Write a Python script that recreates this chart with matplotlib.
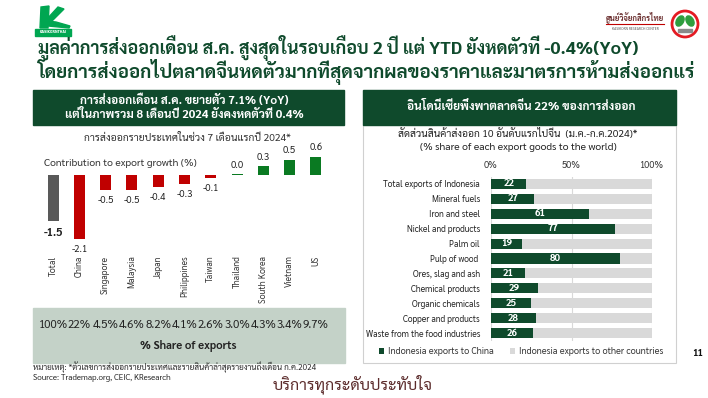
import matplotlib
matplotlib.use("Agg")
import matplotlib.pyplot as plt
from matplotlib import font_manager
from matplotlib.patches import Rectangle, Circle, Ellipse, Polygon
from matplotlib.transforms import blended_transform_factory
import numpy as np

W, H = 708, 398

# ---- data ----
countries = ["Total", "China", "Singapore", "Malaysia", "Japan", "Philippines",
             "Taiwan", "Thailand", "South Korea", "Vietnam", "US"]
contribution = [-1.5, -2.1, -0.5, -0.5, -0.4, -0.3, -0.1, 0.03, 0.3, 0.5, 0.6]
export_share = ["100%", "22%", "4.5%", "4.6%", "8.2%", "4.1%", "2.6%", "3.0%",
                "4.3%", "3.4%", "9.7%"]

products = ["Total exports of Indonesia", "Mineral fuels", "Iron and steel",
            "Nickel and products", "Palm oil", "Pulp of wood ", "Ores, slag and ash",
            "Chemical products", "Organic chemicals", "Copper and products",
            "Waste from the food industries"]
to_china = [22, 27, 61, 77, 19, 80, 21, 29, 25, 28, 26]
to_others = [78, 73, 39, 23, 81, 20, 79, 71, 75, 72, 74]

DARK_GREEN = "#0f4a2c"
RED = "#c00000"
GREEN = "#0a7a22"
GREY_BAR = "#595959"
LIGHT_GREY = "#d9d9d9"
TABLE_BG = "#c4d2c8"
LOGO_GREEN = "#00a651"

installed = {f.name for f in font_manager.fontManager.ttflist}
prefs = ["Sarabun", "Noto Sans Thai Looped", "IBM Plex Sans Thai Looped",
         "Noto Sans Thai", "Loma"]
thai = next((p for p in prefs if p in installed), None)
plt.rcParams["font.family"] = [thai, "DejaVu Sans"] if thai else ["DejaVu Sans"]


def box(x0, y0, x1, y1):
    # pixel box (top-left origin) -> figure fraction rect
    return [x0 / W, 1 - y1 / H, (x1 - x0) / W, (y1 - y0) / H]


fig = plt.figure(figsize=(W / 100, H / 100), dpi=100)
fig.patch.set_facecolor("white")
renderer = fig.canvas.get_renderer()


def fit(t, width):
    # scale font so the text spans `width` pixels like in the slide
    w = t.get_window_extent(renderer).width
    t.set_fontsize(t.get_fontsize() * width / w)
    return t


bg = fig.add_axes([0, 0, 1, 1], zorder=0)
bg.set_xlim(0, W)
bg.set_ylim(H, 0)
bg.axis("off")

# ---- logos ----
bg.add_patch(Polygon([(41, 7), (49, 6), (48, 28), (40, 28)], color=LOGO_GREEN))
bg.add_patch(Polygon([(47, 19), (58, 7), (64, 9), (51, 22)], color=LOGO_GREEN))
bg.add_patch(Polygon([(47, 21), (56, 22), (70, 26), (69, 28), (48, 26)],
                     color=LOGO_GREEN))
bg.add_patch(Rectangle((35, 29), 36, 6.5, color=LOGO_GREEN))
bg.text(53, 32.2, "KASIKORNTHAI", color="white", fontsize=2.3, fontweight="bold",
        ha="center", va="center", family="DejaVu Sans")

fit(bg.text(635, 17, "ศูนย์วิจัยกสิกรไทย", color="#6b2f2f", fontsize=7,
            fontweight="bold", ha="center", va="center"), 58)
bg.plot([606, 664], [24, 24], color=RED, lw=0.8)
bg.text(635, 29, "KASIKORN RESEARCH CENTER", color="#555555",
        fontsize=2.6, ha="center", va="center")
bg.add_patch(Circle((685, 24), 13, facecolor="white", edgecolor="#e31b23", lw=2))
bg.add_patch(Ellipse((680, 21), 7, 11, angle=30, color="#2e9e3e"))
bg.add_patch(Ellipse((690, 21), 7, 11, angle=-30, color="#2e9e3e"))
bg.add_patch(Rectangle((678, 29), 14, 3, color="#8a8a8a"))

# ---- title ----
t1 = bg.text(38, 48, "มูลค่าการส่งออกเดือน ส.ค. สูงสุดในรอบเกือบ 2 ปี แต่ YTD ยังหดตัวที่ -0.4%(YoY)",
             color=DARK_GREEN, fontsize=13, fontweight="bold", ha="left", va="center")
t2 = bg.text(38, 72, "โดยการส่งออกไปตลาดจีนหดตัวมากที่สุดจากผลของราคาและมาตรการห้ามส่งออกแร่",
             color=DARK_GREEN, fontsize=13, fontweight="bold", ha="left", va="center")
fit(t1, 600)
fit(t2, 655)

# ---- left panel ----
bg.add_patch(Rectangle((33, 90), 311, 35, color=DARK_GREEN))
fit(bg.text(184, 101, "การส่งออกเดือน ส.ค. ขยายตัว 7.1% (YoY)", color="white",
            fontsize=8.2, fontweight="bold", ha="center", va="center"), 208)
fit(bg.text(184, 115, "แต่ในภาพรวม 8 เดือนปี 2024 ยังคงหดตัวที่ 0.4%", color="white",
            fontsize=8.2, fontweight="bold", ha="center", va="center"), 239)
fit(bg.text(187, 138, "การส่งออกรายประเทศในช่วง 7 เดือนแรกปี 2024*", color="#333333",
            fontsize=7, ha="center", va="center"), 208)
fit(bg.text(44, 164, "Contribution to export growth (%)", color="#333333",
            fontsize=7, ha="left", va="center"), 153)
bg.add_patch(Rectangle((33, 308), 312, 55, color=TABLE_BG))
bg.text(188, 346, "% Share of exports", color="#222222", fontsize=8,
        fontweight="bold", ha="center", va="center")

ax = fig.add_axes(box(40, 150, 329, 250), zorder=2)
ax.patch.set_alpha(0)
x = np.arange(len(countries))
colors = [GREY_BAR] + [RED if v < 0 else GREEN for v in contribution[1:]]
ax.bar(x, contribution, width=0.42, color=colors)
ax.set_xlim(-0.5, len(countries) - 0.5)
ax.set_ylim(-2.443, 0.814)
for i, v in enumerate(contribution):
    bold = "bold" if i == 0 else "normal"
    size = 8 if i == 0 else 7
    if v < 0:
        ax.annotate(f"{v:.1f}", (i, v), xytext=(0, -4), textcoords="offset points",
                    ha="center", va="top", fontsize=size, fontweight=bold, color="#222222")
    else:
        ax.annotate(f"{v:.1f}", (i, v), xytext=(0, 3), textcoords="offset points",
                    ha="center", va="bottom", fontsize=size, color="#222222")
ax.set_xticks(x)
ax.set_xticklabels(countries, rotation=90, fontsize=6.3, color="#333333")
ax.tick_params(axis="x", length=0, pad=4)
ax.set_yticks([])
for s in ax.spines.values():
    s.set_visible(False)

tr = blended_transform_factory(ax.transData, bg.transData)
for i, s in enumerate(export_share):
    ax.text(i, 326, s, transform=tr, ha="center", va="center", fontsize=8.3,
            color="#222222")

fit(bg.text(33, 367, "หมายเหตุ: *ตัวเลขการส่งออกรายประเทศและรายสินค้าล่าสุดรายงานถึงเดือน ก.ค.2024",
            fontsize=5.3, color="#222222", ha="left", va="center"), 283)
fit(bg.text(33, 378, "Source: Trademap.org, CEIC, KResearch", fontsize=5.3,
            color="#222222", ha="left", va="center"), 140)

# ---- right panel ----
bg.add_patch(Rectangle((363, 90), 313, 273, facecolor="white",
                       edgecolor="#d0d0d0", lw=0.8))
bg.add_patch(Rectangle((363, 90), 313, 35, color=DARK_GREEN))
fit(bg.text(521, 107, "อินโดนีเซียพึ่งพาตลาดจีน 22% ของการส่งออก", color="white",
            fontsize=7.8, fontweight="bold", ha="center", va="center"), 228)
fit(bg.text(518, 134, "สัดส่วนสินค้าส่งออก 10 อันดับแรกไปจีน  (ม.ค.-ก.ค.2024)*",
            color="#222222", fontsize=7, ha="center", va="center"), 241)
fit(bg.text(518, 147, "(% share of each export goods to the world)",
            color="#222222", fontsize=7, ha="center", va="center"), 197)

ax2 = fig.add_axes(box(491, 176.5, 652, 340.5), zorder=2)
ax2.patch.set_alpha(0)
y = np.arange(len(products))
ax2.barh(y, to_china, height=0.68, color=DARK_GREEN, label="Indonesia exports to China",
         zorder=2)
ax2.barh(y, to_others, left=to_china, height=0.68, color=LIGHT_GREY,
         label="Indonesia exports to other countries", zorder=2)
for i, v in enumerate(to_china):
    ax2.text(v / 2, i, f"{v}", ha="center", va="center", color="white",
             fontsize=7, fontweight="bold", zorder=3)
ax2.set_ylim(len(products) - 0.5, -0.5)
ax2.set_xlim(0, 100)
ax2.set_xticks([0, 50, 100])
ax2.set_xticklabels(["0%", "50%", "100%"], fontsize=6.8, color="#333333")
ax2.xaxis.tick_top()
ax2.tick_params(axis="x", length=0, pad=5)
ax2.set_yticks(y)
ax2.set_yticklabels(products, fontsize=6.2, color="#222222")
ax2.tick_params(axis="y", length=0, pad=8)
ax2.grid(axis="x", color="#d9d9d9", lw=0.8, zorder=0)
for s in ax2.spines.values():
    s.set_visible(False)
ax2.legend(loc="center", bbox_to_anchor=(521 / W, 1 - 352 / H),
           bbox_transform=fig.transFigure, ncol=2, frameon=False, fontsize=6.6,
           handlelength=0.6, handleheight=0.6, columnspacing=1.8, handletextpad=0.4,
           labelcolor="#333333")

bg.text(698, 354, "11", fontsize=7, fontweight="bold", ha="center", va="center",
        color="#111111")
fit(bg.text(353, 384, "บริการทุกระดับประทับใจ", fontsize=10, color="#5b2b2b",
            ha="center", va="center"), 160)

fig.savefig("out.png", dpi=100)
